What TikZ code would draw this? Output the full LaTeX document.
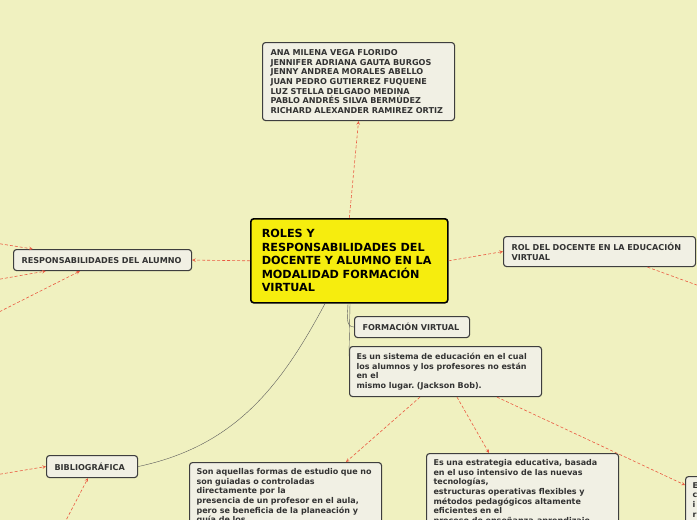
\documentclass[tikz,border=0pt]{standalone}
\usepackage{fontspec}
\setmainfont{DejaVu Sans}
\usepackage{tikz}
\usetikzlibrary{arrows, calc}

\definecolor{bgyel}{RGB}{240,241,192}
\definecolor{boxfill}{RGB}{241,240,228}
\definecolor{boxline}{RGB}{62,62,62}
\definecolor{linkred}{RGB}{234,90,66}
\definecolor{rootyel}{RGB}{246,237,14}
\definecolor{txtgray}{RGB}{51,51,51}

\frenchspacing

\begin{document}
\begin{tikzpicture}[
            x = 1pt, y = -1pt, % pixel grid, origin top left
            > = stealth, % arrow head style
            link/.style = {draw = linkred, dash pattern = on 3pt off 2pt, ->, semithick},
            branch/.style = {draw = boxline!85, thin}
        ]

        \tikzstyle{topic}=[
            draw = boxline,
            fill = boxfill,
            line width = 1.1pt,
            rounded corners = 3pt,
            anchor = north west,
            align = left,
            text = txtgray,
            inner xsep = 8pt,
            font = \bfseries\fontsize{8.1}{9.6}\selectfont
        ]
        \tikzstyle{note}=[
            topic,
            text width = 178pt,
            inner xsep = 7pt,
            inner ysep = 6pt,
            font = \bfseries\fontsize{8}{9.6}\selectfont
        ]
        \tikzstyle{rootbox}=[
            topic,
            draw = black,
            fill = rootyel,
            line width = 1.6pt,
            text = black,
            inner xsep = 11pt,
            font = \bfseries\fontsize{11.2}{13.5}\selectfont
        ]

        \useasboundingbox (0,0) rectangle (697,520);
        \fill[bgyel] (0,0) rectangle (697,520);

        \begin{scope}
        \clip (0,0) rectangle (697,520);

        % free ends of the links that leave the picture
        \coordinate (offa) at (-5,243);
        \coordinate (offb) at (-5,280);
        \coordinate (offc) at (-5,314);
        \coordinate (offd) at (705,288);
        \coordinate (offe) at (-5,475);
        \coordinate (offf) at (62,528);

        \node[rootbox, text width = 175pt, minimum height = 84pt] (root) at (250,218)
            {ROLES Y\\RESPONSABILIDADES DEL\\DOCENTE Y ALUMNO EN LA\\MODALIDAD FORMACIÓN\\VIRTUAL};

        \node[topic, text width = 176pt, minimum height = 78pt] (auth) at (262,42)
            {ANA MILENA VEGA FLORIDO\\JENNIFER ADRIANA GAUTA BURGOS\\JENNY ANDREA MORALES ABELLO\\JUAN PEDRO GUTIERREZ FUQUENE\\LUZ STELLA DELGADO MEDINA\\PABLO ANDRÉS SILVA BERMÚDEZ\\RICHARD ALEXANDER RAMIREZ ORTIZ};

        \node[topic, text width = 162pt, minimum height = 21pt] (resp) at (13,249)
            {RESPONSABILIDADES DEL ALUMNO};
        \node[topic, text width = 176pt, minimum height = 30pt] (rol) at (503,236)
            {ROL DEL DOCENTE EN LA EDUCACIÓN\\VIRTUAL};
        \node[topic, text width = 99pt, minimum height = 21pt] (form) at (354,316)
            {FORMACIÓN VIRTUAL};
        \node[note, minimum height = 50pt, inner ysep = 3pt] (sist) at (349,346)
            {Es un sistema de educación en el cual\\los alumnos y los profesores no están\\en el\\mismo lugar. (Jackson Bob).};
        \node[topic, text width = 75pt, minimum height = 22pt] (bib) at (46,455)
            {BIBLIOGRÁFICA};

        \node[note] (aquel) at (189,462)
            {Son aquellas formas de estudio que no\\son guiadas o controladas\\directamente por la\\presencia de un profesor en el aula,\\pero se beneficia de la planeación y\\guía de los};
        \node[note] (estr) at (426,453)
            {Es una estrategia educativa, basada\\en el uso intensivo de las nuevas\\tecnologías,\\estructuras operativas flexibles y\\métodos pedagógicos altamente\\eficientes en el\\proceso de enseñanza-aprendizaje};
        \node[note] (part) at (685,476)
            {E\\c\\i\\r};

        % links
        \path[link] (root.north) -- (auth.south);
        \path[link] (root.west) -- (resp.east);
        \path[link] (root.east) -- (rol.west);
        \path[link] (rol.-18) -- (offd);
        \path[link] (offa) -- (resp.171);
        \path[link] (offb) -- (resp.191);
        \path[link] (offc) -- (resp.206);
        \path[link] ($(sist.south west)+(71,0)$) -- ($(aquel.north west)+(157,0)$);
        \path[link] ($(sist.south west)+(108,0)$) -- ($(estr.north west)+(63,0)$);
        \path[link] ($(sist.south west)+(148,0)$) -- ($(part.north west)+(0,9)$);
        \path[link] (offe) -- (bib.west);
        \path[link] (offf) -- ($(bib.south west)+(42,0)$);

        % branches
        \draw[branch] ($(root.south west)+(75,0)$) to[out=-118, in=12] (bib.east);
        \draw[branch] ($(root.south west)+(98,0)$) to[out=-90, in=180] (form.west);
        \draw[branch] ($(root.south west)+(100,0)$) -- ($(sist.north west)+(0,10)$);

        \end{scope}

  \end{tikzpicture}
\end{document}
